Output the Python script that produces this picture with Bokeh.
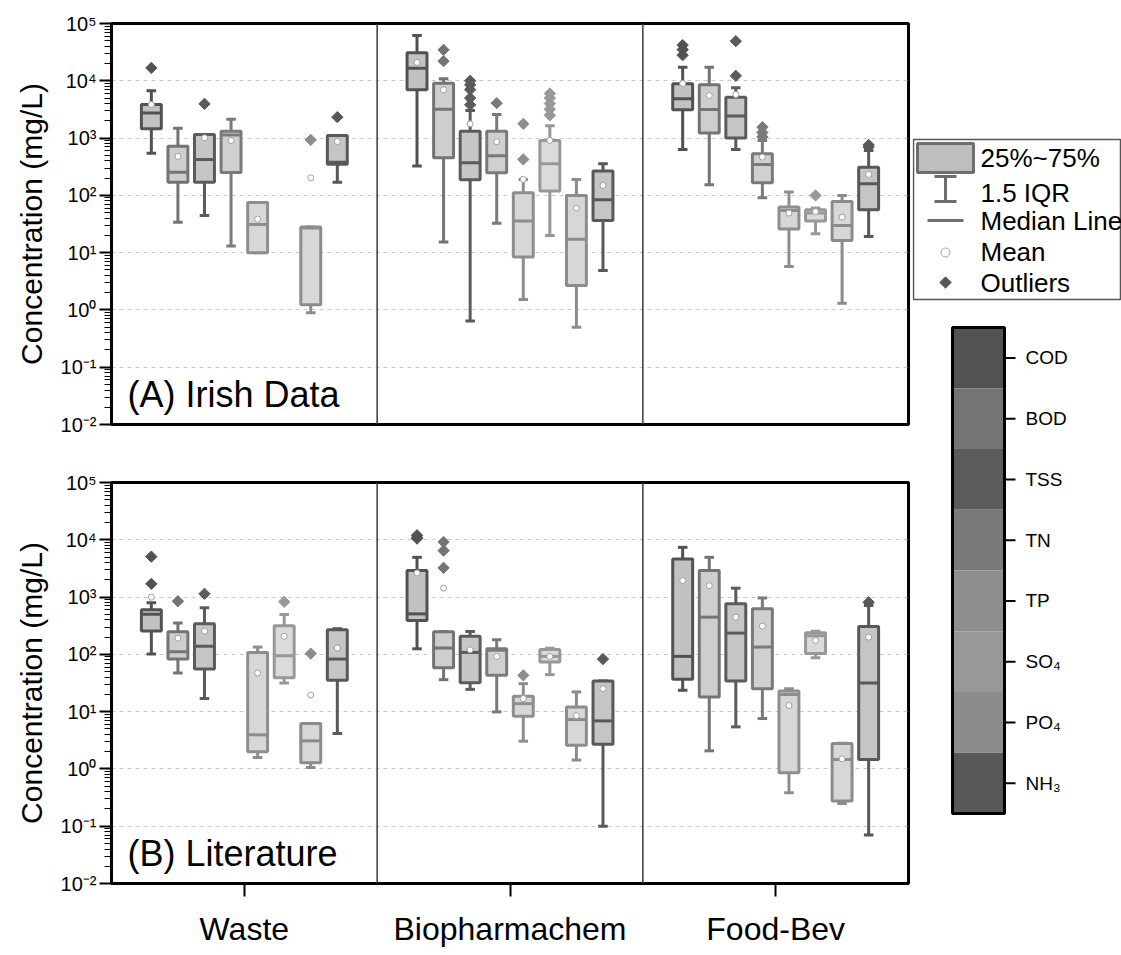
import math
from bokeh.plotting import figure
from bokeh.layouts import row, column
from bokeh.models import (Range1d, FixedTicker, CustomJSTickFormatter, Span, Label,
                          ColumnDataSource)
from bokeh.embed import file_html
from bokeh.resources import INLINE
from bokeh.core.properties import value

NaN = float("nan")
FONT = "Liberation Sans"

GROUPS = ["Waste", "Biopharmachem", "Food-Bev"]
PARAMS = ["COD", "BOD", "TSS", "TN", "TP", "SO\u2084", "PO\u2084", "NH\u2083"]
PARAM_COLORS = ["#525252", "#747474", "#5b5b5b", "#7a7a7a", "#8e8e8e", "#989898", "#8c8c8c", "#585858"]
LEGEND_LABELS = ["25%~75%", "1.5 IQR", "Median Line", "Mean", "Outliers"]

# ---- Panel A: Irish data (Waste x8, Biopharmachem x8, Food-Bev x8) ----
A_LOW = [545, 34, 44.6, 13, 10, NaN, 0.89, 170,
         324, 15.3, 0.64, 32.7, 1.52, 20, 0.5, 4.9,
         631, 153, 631, 90.8, 5.74, 21.3, 1.31, 19.2]
A_Q1 = [1450, 170, 170, 251, 10, NaN, 1.23, 350,
        6950, 453, 187, 248, 8.4, 119, 2.68, 36.5,
        3110, 1220, 1000, 166, 25.8, 35.5, 16.3, 56]
A_MED = [2750, 254, 424, 1130, 31, NaN, 27, 380,
         16600, 3200, 370, 490, 35.5, 356, 17.2, 83.8,
         4840, 3150, 2420, 346, 54.6, 49, 29.9, 159]
A_Q3 = [3850, 723, 1156, 1320, 75, NaN, 28, 1110,
        30800, 9100, 1320, 1320, 111, 908, 99.6, 265,
        8860, 8510, 5170, 531, 62.4, 56, 78.3, 311]
A_HIGH = [6700, 1490, 1156, 2140, 75, NaN, 28, 1110,
          61700, 10800, 3030, 2580, 189, 1640, 189, 356,
          17300, 17300, 7530, 908, 114, 60, 99.6, 608]
A_MEAN = [3850, 478, 1010, 908, 38.5, NaN, 202, 870,
          20900, 6950, 1770, 861, 190, 908, 59.8, 149,
          9000, 5530, 5750, 465, 49, 52, 41.7, 232]
A_OUT = [[16800], [], [3960], [], [], [], [930], [2320],
         [], [34700, 22000], [10000, 8500, 7000, 5000, 3800], [4070], [1770, 424],
         [6000, 5000, 4000, 3200, 2500], [], [],
         [42000, 35000, 28000], [], [49200, 12200], [1550, 1250, 1050], [], [99.6], [], [760, 700]]

# ---- Panel B: Literature ----
B_LOW = [101, 47.2, 16.9, NaN, 1.58, 31.6, 1.06, 4.15,
         125, 36.1, 24.5, 9.9, 3.05, 44.2, 1.43, 0.1,
         23.6, 2.07, 5.42, 7.57, 0.385, 87.3, 0.25, 0.0705]
B_Q1 = [255, 82.8, 55.5, NaN, 1.99, 39.2, 1.28, 35.2,
        390, 58.5, 32, 43, 8.3, 73.5, 2.6, 2.7,
        36.6, 18.1, 34.3, 25.2, 0.857, 103, 0.275, 1.46]
B_MED = [500, 111, 138, NaN, 3.94, 94.6, 3.09, 82.8,
         509, 129, 108, 118, 13.8, 92.2, 7.28, 6.9,
         92.2, 446, 235, 134, 20, 211, 1.46, 31.6]
B_Q3 = [598, 248, 341, NaN, 108, 316, 6.2, 268,
        2900, 248, 208, 125, 18.5, 121, 12.1, 34.3,
        4620, 2900, 763, 624, 23, 238, 2.78, 307]
B_HIGH = [792, 351, 649, NaN, 134, 497, 6.2, 280,
          4940, 248, 251, 180, 30.8, 128, 22.1, 34.3,
          7380, 4940, 1430, 968, 25.2, 253, 2.8, 713]
B_MEAN = [995, 192, 255, NaN, 47.2, 206, 19.5, 129,
          2640, 1430, 120, 92, 16.9, 92, 8.5, 25.2,
          1940, 1580, 446, 311, 12.8, 175, 1.5, 200]
B_OUT = [[5080, 1700], [847], [1140], [], [], [825], [103], [],
         [12000, 11000, 10500], [9140, 6470, 3240], [], [], [43], [], [], [82.8],
         [], [], [], [], [], [], [], [812]]

BOX_W = 0.075
CAP_W = 0.036


def lighten(hex_color, keep=0.35):
    r, g, b = (int(hex_color[i:i + 2], 16) for i in (1, 3, 5))
    mix = lambda c: int(round(c * keep + 255 * (1 - keep)))
    return "#%02x%02x%02x" % (mix(r), mix(g), mix(b))


SUP_JS = """
const sup = {"0":"\u2070","1":"\u00b9","2":"\u00b2","3":"\u00b3","4":"\u2074",
             "5":"\u2075","6":"\u2076","7":"\u2077","8":"\u2078","9":"\u2079","-":"\u207b"};
const e = Math.round(Math.log10(tick));
return "10" + String(e).split("").map(c => sup[c]).join("");
"""


def make_panel(low, q1, med, q3, high, mean, outs, tag, show_x, height, b_top, b_bottom):
    n = len(PARAMS)
    p = figure(width=912, height=height, x_range=Range1d(0, len(GROUPS)),
               y_range=Range1d(1e-2, 1e5), y_axis_type="log",
               x_axis_location="below" if show_x else None,
               output_backend="svg", toolbar_location=None,
               min_border_left=111, min_border_right=4,
               min_border_top=b_top, min_border_bottom=b_bottom)
    p.outline_line_color = "black"
    p.outline_line_width = 3
    p.background_fill_color = "white"
    p.border_fill_color = "white"

    d = dict(x=[], xl=[], xr=[], cl=[], cr=[], low=[], q1=[], med=[], q3=[],
             high=[], mean=[], color=[], fill=[])
    o = dict(x=[], y=[], color=[])
    for k in range(len(low)):
        if math.isnan(q1[k]):
            continue
        g, i = divmod(k, n)
        x = g + (1.5 + i) / 10.0
        c = PARAM_COLORS[i]
        d["x"].append(x)
        d["xl"].append(x - BOX_W / 2)
        d["xr"].append(x + BOX_W / 2)
        d["cl"].append(x - CAP_W / 2)
        d["cr"].append(x + CAP_W / 2)
        d["low"].append(low[k]); d["q1"].append(q1[k]); d["med"].append(med[k])
        d["q3"].append(q3[k]); d["high"].append(high[k]); d["mean"].append(mean[k])
        d["color"].append(c); d["fill"].append(lighten(c))
        for v in outs[k]:
            o["x"].append(x); o["y"].append(v); o["color"].append(c)
    src = ColumnDataSource(d)
    osrc = ColumnDataSource(o)

    for y0, y1 in (("q3", "high"), ("low", "q1")):
        p.segment("x", y0, "x", y1, source=src, line_color="color", line_width=3)
    for y in ("high", "low"):
        p.segment("cl", y, "cr", y, source=src, line_color="color", line_width=3)
    p.vbar(x="x", width=BOX_W, bottom="q1", top="q3", source=src,
           fill_color="fill", line_color="color", line_width=3)
    p.segment("xl", "med", "xr", "med", source=src, line_color="color", line_width=3)
    p.scatter("x", "y", source=osrc, marker="square", angle=math.pi / 4, size=8,
              fill_color="color", line_color="color", line_width=1)
    p.scatter("x", "mean", source=src, marker="circle", size=6,
              fill_color="white", line_color="#a0a0a0", line_width=1)

    for b in range(1, len(GROUPS)):
        p.add_layout(Span(location=b, dimension="height", line_color="#3a3a3a", line_width=1.5))

    p.add_layout(Label(x=0.06, y=0.0334, text=tag, text_font=FONT, text_font_size="36px",
                       text_baseline="middle", text_color="black"))

    p.xgrid.visible = False
    p.ygrid.grid_line_color = "#c8c8c8"
    p.ygrid.grid_line_dash = "4 4"
    p.ygrid.grid_line_width = 1.2

    ya = p.yaxis[0]
    ya.ticker = FixedTicker(ticks=[10.0 ** e for e in range(-2, 6)],
                            minor_ticks=[m * 10.0 ** e for e in range(-2, 5) for m in range(2, 10)])
    ya.formatter = CustomJSTickFormatter(code=SUP_JS)
    ya.axis_label = "Concentration (mg/L)"
    ya.axis_label_text_font = FONT
    ya.axis_label_text_font_size = "30px"
    ya.axis_label_text_font_style = "normal"
    ya.axis_label_text_color = "black"
    ya.axis_label_standoff = 10
    ya.major_label_text_font = FONT
    ya.major_label_text_font_size = "20px"
    ya.major_label_text_color = "black"
    ya.major_label_standoff = 3
    ya.major_tick_out = 12
    ya.major_tick_in = 0
    ya.minor_tick_out = 7
    ya.minor_tick_in = 0
    ya.major_tick_line_width = 2
    ya.minor_tick_line_width = 1
    ya.axis_line_width = 3

    if show_x:
        xa = p.xaxis[0]
        xa.ticker = FixedTicker(ticks=[g + 0.5 for g in range(len(GROUPS))])
        xa.formatter = CustomJSTickFormatter(args=dict(groups=GROUPS),
                                             code="return groups[Math.floor(tick)];")
        xa.major_label_text_font = FONT
        xa.major_label_text_font_size = "32px"
        xa.major_label_text_color = "black"
        xa.major_label_standoff = 14
        xa.major_tick_out = 13
        xa.major_tick_in = 0
        xa.minor_tick_out = 0
        xa.minor_tick_in = 0
        xa.major_tick_line_width = 2
        xa.axis_line_width = 3
    return p


pA = make_panel(A_LOW, A_Q1, A_MED, A_Q3, A_HIGH, A_MEAN, A_OUT, "(A) Irish Data",
                False, 453, 23, 29)
pB = make_panel(B_LOW, B_Q1, B_MED, B_Q3, B_HIGH, B_MEAN, B_OUT, "(B) Literature",
                True, 502, 29, 72)

# ---- right side: legend box and parameter colour bar ----
r = figure(width=209, height=955, x_range=Range1d(0, 209), y_range=Range1d(955, 0),
           x_axis_location=None, y_axis_location=None, output_backend="svg",
           toolbar_location=None, min_border=0)
r.outline_line_color = None
r.grid.visible = False

legend_color = "#6e6e6e"
r.quad(left=1, right=208, top=139, bottom=299, fill_color="white", line_color="#555555", line_width=1.5)
r.quad(left=5, right=61, top=143, bottom=172, fill_color=lighten(legend_color, 0.45),
       line_color=legend_color, line_width=3)
r.segment(x0=[33, 22, 22], y0=[176, 176, 201], x1=[33, 44, 44], y1=[201, 176, 201],
          line_color=legend_color, line_width=3)
r.segment(x0=[15], y0=[220], x1=[51], y1=[220], line_color=legend_color, line_width=3)
r.scatter(x=[33], y=[252], marker="circle", size=9, fill_color="white", line_color="#a0a0a0", line_width=1)
r.scatter(x=[33], y=[282], marker="square", angle=math.pi / 4, size=8, fill_color="#555555",
          line_color="#555555")
r.text(x=[68] * len(LEGEND_LABELS), y=[157, 192, 220, 251, 282], text=LEGEND_LABELS,
       text_font=value(FONT), text_font_size="26px", text_baseline="middle", text_color="black")

cb_top, cb_bottom, cb_left, cb_right = 327, 813, 40, 92
seg = (cb_bottom - cb_top) / len(PARAMS)
tops = [cb_top + i * seg for i in range(len(PARAMS))]
r.quad(left=cb_left, right=cb_right, top=tops, bottom=[t + seg for t in tops],
       fill_color=PARAM_COLORS, line_color=None)
r.quad(left=cb_left, right=cb_right, top=cb_top, bottom=cb_bottom, fill_color=None,
       line_color="black", line_width=3)
mids = [t + seg / 2 for t in tops]
r.segment(x0=[cb_right] * len(mids), y0=mids, x1=[cb_right + 11] * len(mids), y1=mids,
          line_color="black", line_width=2)
r.text(x=[cb_right + 21] * len(mids), y=mids, text=PARAMS, text_font=value(FONT),
       text_font_size="19px", text_baseline="middle", text_color="black")

layout = row(column(pA, pB), r)
open("out.html", "w", encoding="utf-8").write(file_html(layout, INLINE))
